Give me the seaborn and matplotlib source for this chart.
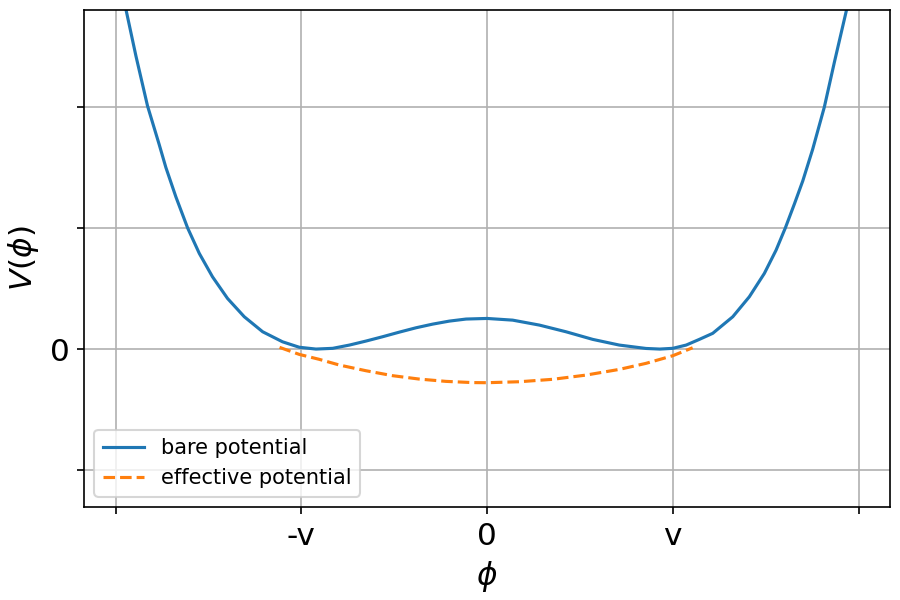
import matplotlib

matplotlib.use("Agg")

import matplotlib.pyplot as plt
import pandas as pd
import seaborn as sns

# values (phi in units of v)
BARE_PHI = [-1.97, -1.944, -1.890, -1.828, -1.765, -1.729, -1.675, -1.612, -1.549, -1.478,
            -1.397, -1.307, -1.208, -1.101, -1.011, -0.921, -0.831, -0.741, -0.652, -0.562,
            -0.472, -0.382, -0.293, -0.203, -0.113, 0.0, 0.138, 0.282, 0.425, 0.569,
            0.712, 0.856, 0.93, 1.0, 1.072, 1.143, 1.215, 1.323, 1.412, 1.493,
            1.556, 1.606, 1.655, 1.700, 1.753, 1.816, 1.870, 1.936, 1.97]
BARE_V = [3.05, 2.806, 2.420, 2.010, 1.690, 1.500, 1.257, 1.001, 0.790, 0.597,
          0.418, 0.267, 0.143, 0.060, 0.015, 0.0, 0.006, 0.033, 0.066, 0.102,
          0.140, 0.176, 0.206, 0.231, 0.248, 0.253, 0.239, 0.198, 0.143, 0.080,
          0.033, 0.005, 0.0, 0.006, 0.033, 0.080, 0.130, 0.267, 0.432, 0.625,
          0.817, 1.001, 1.200, 1.390, 1.650, 2.000, 2.370, 2.806, 3.05]

EFF_PHI = [-1.117, -1.011, -0.903, -0.795, -0.652, -0.508, -0.365, -0.221, -0.078, 0.0,
           0.174, 0.353, 0.533, 0.712, 0.856, 1.0, 1.107]
EFF_V = [0.014, -0.044, -0.085, -0.132, -0.179, -0.220, -0.248, -0.267, -0.277, -0.278,
         -0.270, -0.250, -0.215, -0.168, -0.118, -0.055, 0.011]

X_TICKS = [-2, -1, 0, 1, 2]
X_TICK_LABELS = ["", "-v", "0", "v", ""]
Y_TICKS = [-1, 0, 1, 2]
Y_TICK_LABELS = ["", "0", "", ""]


def main() -> None:
    bare = pd.DataFrame({"phi": BARE_PHI, "V": BARE_V})
    eff = pd.DataFrame({"phi": EFF_PHI, "V": EFF_V})

    fig, ax = plt.subplots(figsize=(6, 4), dpi=150)
    sns.lineplot(data=bare, x="phi", y="V", ax=ax, color="#1f77b4", linewidth=1.5,
                 label="bare potential", sort=False)
    sns.lineplot(data=eff, x="phi", y="V", ax=ax, color="#ff7f0e", linewidth=1.5,
                 linestyle="--", label="effective potential", sort=False)

    ax.set_xlim(-2.17, 2.17)
    ax.set_ylim(-1.305, 2.8)
    ax.set_xticks(X_TICKS)
    ax.set_xticklabels(X_TICK_LABELS)
    ax.set_yticks(Y_TICKS)
    ax.set_yticklabels(Y_TICK_LABELS)
    ax.tick_params(labelsize=15)
    ax.set_xlabel(r"$\phi$", fontsize=15)
    ax.set_ylabel(r"$V(\phi)$", fontsize=15)
    ax.grid(True)
    ax.legend(loc="lower left", fontsize=10)

    fig.subplots_adjust(left=0.0933, right=0.989, top=0.983, bottom=0.155)
    fig.savefig("out.png", dpi=150)
    plt.close(fig)


if __name__ == "__main__":
    main()
